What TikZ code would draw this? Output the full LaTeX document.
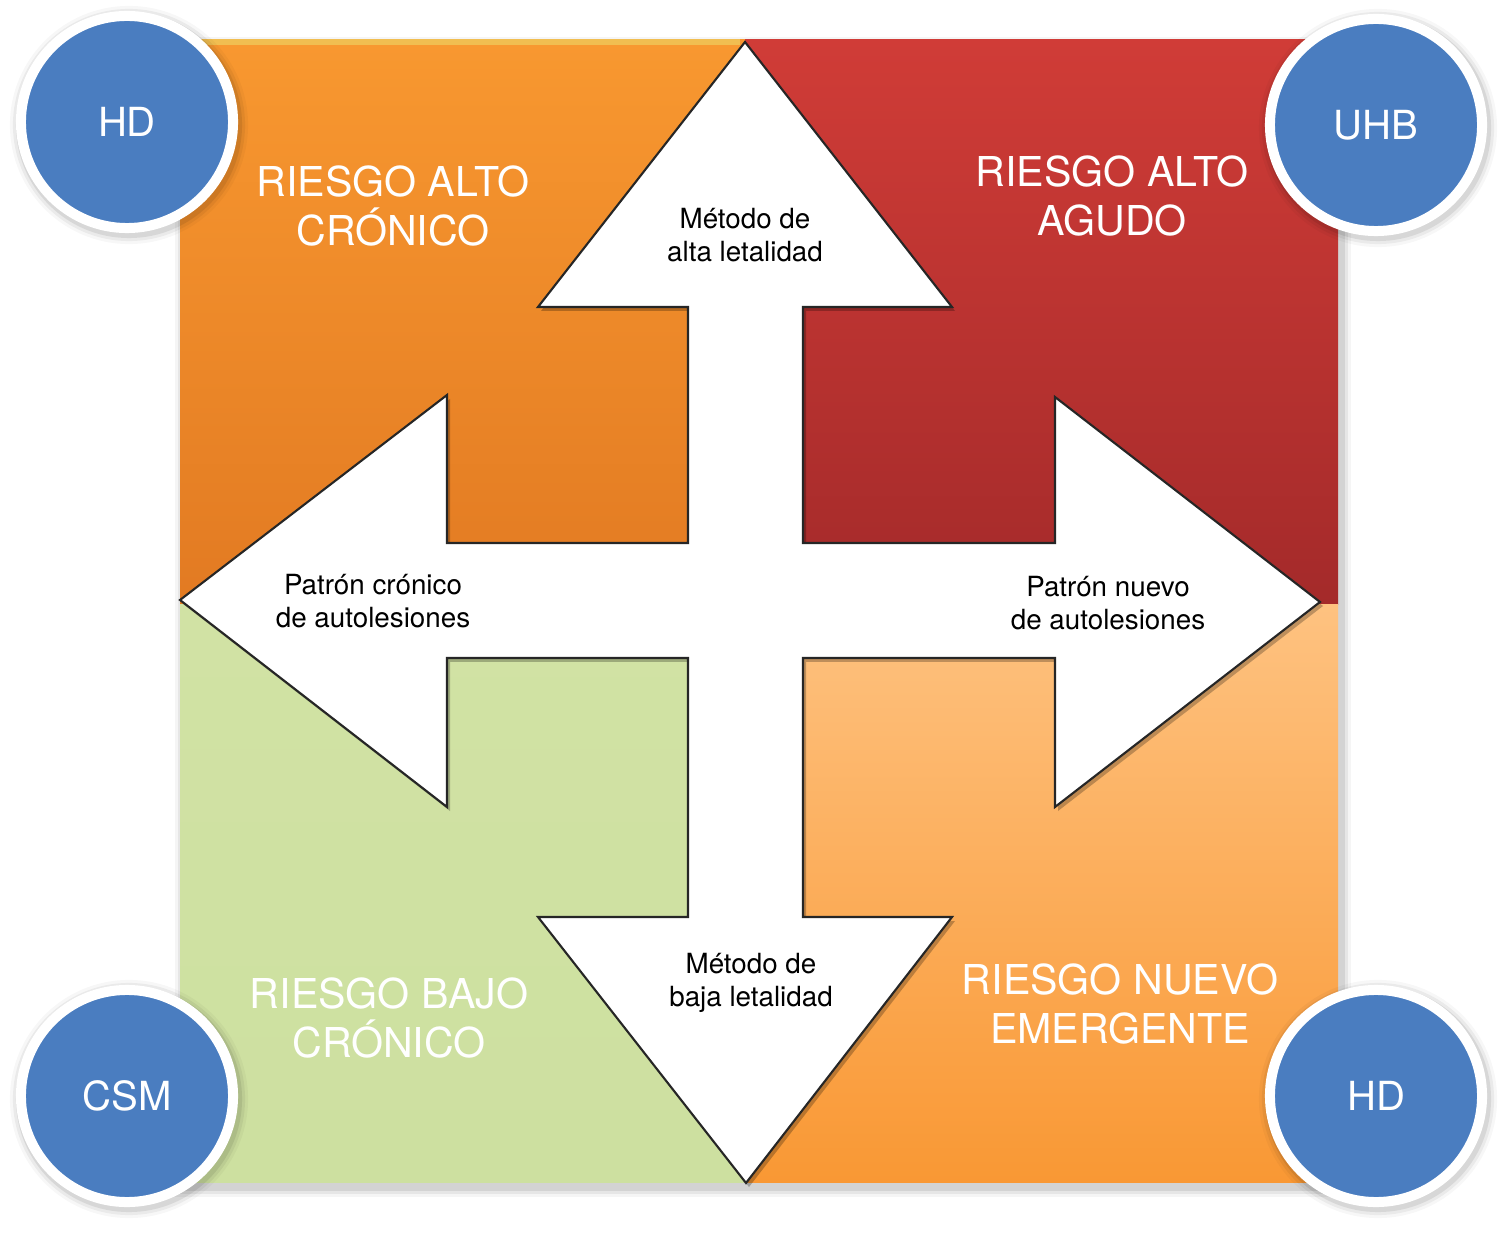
\documentclass[tikz,border=0pt]{standalone}
\usepackage{fontspec}
\setmainfont{TeX Gyre Heros}
\definecolor{orA}{RGB}{248,152,48}
\definecolor{orB}{RGB}{226,122,34}
\definecolor{rdA}{RGB}{208,60,55}
\definecolor{rdB}{RGB}{164,42,42}
\definecolor{grA}{RGB}{209,226,164}
\definecolor{grB}{RGB}{205,224,160}
\definecolor{loA}{RGB}{254,194,128}
\definecolor{loB}{RGB}{249,152,52}
\definecolor{bluec}{RGB}{74,125,192}
\definecolor{hilite}{RGB}{240,200,90}
\tikzset{
  bigtxt/.style={text=white,align=center,font=\fontsize{11.7}{14.2}\selectfont},
  smalltxt/.style={text=black,align=center,font=\fontsize{7.9}{9.4}\selectfont},
  circnode/.style={circle,fill=bluec,draw=white,line width=0.1cm,minimum size=2.12cm,inner sep=0pt,
     text=white,font=\fontsize{11.4}{13}\selectfont},
  arrowline/.style={draw=black!85,line width=0.6pt,line join=miter,fill=white},
}
\def\arrowpath{(745,42) -- (952,307) -- (803,307) -- (803,543) -- (1055,543) -- (1055,397) -- (1320,602) -- (1055,807) -- (1055,658) -- (803,658) -- (803,917) -- (952,917) -- (746,1183) -- (538,917) -- (688,917) -- (688,658) -- (447,658) -- (447,807) -- (180,600) -- (447,395) -- (447,543) -- (688,543) -- (688,307) -- (538,307) -- cycle}
\begin{document}
\begin{tikzpicture}[x=0.01cm,y=-0.01cm]
\useasboundingbox (0,0) rectangle (1500,1234);
\fill[white] (0,0) rectangle (1500,1234);
% quadrant shadow
\foreach \d/\o in {9/0.04,6/0.06,3/0.08}{
  \fill[black,opacity=\o] (180-\d+4,40-\d+6) rectangle (1338+\d+4,1182+\d+6);
}
% quadrants
\shade[top color=orA,bottom color=orB] (180,40) rectangle (745,605);
\shade[top color=rdA,bottom color=rdB] (745,40) rectangle (1338,605);
\shade[top color=grA,bottom color=grB] (180,605) rectangle (745,1182);
\shade[top color=loA,bottom color=loB] (745,605) rectangle (1338,1182);
\draw[hilite,line width=1.5pt,opacity=0.8] (182,42) -- (740,42);
% arrow shadow
\fill[black,opacity=0.25] [shift={(3,4)}] \arrowpath;
\path[arrowline] \arrowpath;
% quadrant labels
\node[bigtxt] (tl) at (393,206) {RIESGO ALTO\\CRÓNICO};
\node[bigtxt] (tr) at (1112,196) {RIESGO ALTO\\AGUDO};
\node[bigtxt] (bl) at (389,1018) {RIESGO BAJO\\CRÓNICO};
\node[bigtxt] (br) at (1120,1004) {RIESGO NUEVO\\EMERGENTE};
% arrow labels
\node[smalltxt] (up) at (745,235) {Método de\\alta letalidad};
\node[smalltxt] (left) at (373,601) {Patrón crónico\\de autolesiones};
\node[smalltxt] (right) at (1108,603) {Patrón nuevo\\de autolesiones};
\node[smalltxt] (down) at (751,983) {Método de\\baja letalidad};
% circles
\coordinate (c1) at (127,122);
\coordinate (c2) at (1376,125);
\coordinate (c3) at (127,1096);
\coordinate (c4) at (1376,1096);
\foreach \c in {c1,c2,c3,c4}{
  \foreach \r/\o in {1.19/0.03,1.16/0.05,1.13/0.08}{
    \fill[black,opacity=\o] ([shift={(2,3)}]\c) circle (\r cm);
  }
}
\node[circnode] (hd1) at (c1) {HD};
\node[circnode] (uhb) at (c2) {UHB};
\node[circnode] (csm) at (c3) {CSM};
\node[circnode] (hd2) at (c4) {HD};
\end{tikzpicture}
\end{document}
